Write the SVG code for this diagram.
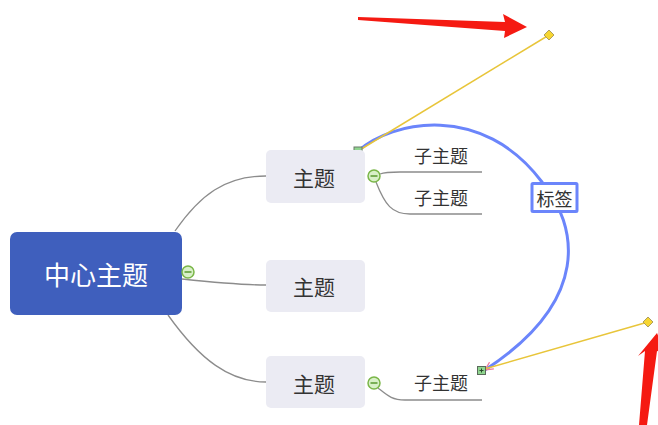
<svg xmlns="http://www.w3.org/2000/svg" width="658" height="425" viewBox="0 0 658 425">
<style>
.t{font-family:"Noto Sans CJK SC","Liberation Sans",sans-serif;text-anchor:middle;dominant-baseline:central}
.topic{fill:#ebebf3}
.tt{font-size:21px;fill:#333}
.st{font-size:18px;fill:#333}
.conn{fill:none;stroke:#8c8c8c;stroke-width:1.3}
.col{fill:#d8f0c8;stroke:#7ab648;stroke-width:1.5}
.minus{stroke:#5a9a30;stroke-width:1.5}
.yel{stroke:#e8c53a;stroke-width:1.5;fill:none}
.dia{fill:#f7d631;stroke:#9a8a50;stroke-width:0.8}
.red{fill:#f51a12}
</style>
<defs>
<marker id="pa" markerWidth="10" markerHeight="10" refX="8" refY="5" orient="auto" markerUnits="userSpaceOnUse">
<path d="M0,1 L8,5 L0,9" fill="none" stroke="#f07a9a" stroke-width="1.3"/>
</marker>
</defs>
<g id="connectors">
<path class="conn" d="M175,231 C200,195 225,176 266,176"/>
<path class="conn" d="M182,279 C220,283 240,285 266,285"/>
<path class="conn" d="M168,315 C200,360 230,382 266,382"/>
<path class="conn" d="M380,174 C385,172 390,172 400,172 L482,172"/>
<path class="conn" d="M376,182 C385,205 392,214 410,214 L482,214"/>
<path class="conn" d="M378,388 C388,396 392,400 405,400 L482,400"/>
</g>
<g id="relationship">
<path d="M358,151 C392,121 482,102 542,182 C578,226 592,300 485,370" fill="none" stroke="#6b85fb" stroke-width="3" marker-end="url(#pa)"/>
<line class="yel" x1="358" y1="151" x2="549" y2="35"/>
<line class="yel" x1="481" y1="370" x2="648" y2="322"/>
<rect x="354" y="147" width="8" height="8" fill="#8fd58f" stroke="#6a7a6a" stroke-width="1"/>
<rect x="477.5" y="366.5" width="8" height="8" fill="#8fd58f" stroke="#5a6a5a" stroke-width="1"/>
<path d="M479.5,370.5 h4 M481.5,368.5 v4" stroke="#2a4a2a" stroke-width="1"/>
<path class="dia" d="M549,30 L554,35 L549,40 L544,35 Z"/>
<path class="dia" d="M648,317 L653,322 L648,327 L643,322 Z"/>
</g>
<g id="label">
<rect x="532" y="183.5" width="45" height="28" fill="#fff" stroke="#6b85fb" stroke-width="3" rx="1"/>
<text class="t st" x="554.5" y="198">标签</text>
</g>
<g id="central">
<rect x="10" y="232" width="172" height="83" rx="7" fill="#3f5fbd"/>
<text class="t" x="96" y="273" font-size="26" fill="#fff">中心主题</text>
<circle class="col" cx="188" cy="272" r="6"/>
<line class="minus" x1="184.5" y1="272" x2="191.5" y2="272"/>
</g>
<g id="topic1">
<rect class="topic" x="266" y="150" width="99" height="53" rx="5"/>
<text class="t tt" x="314" y="177">主题</text>
<circle class="col" cx="374" cy="176" r="6"/>
<line class="minus" x1="370.5" y1="176" x2="377.5" y2="176"/>
</g>
<g id="topic2">
<rect class="topic" x="266" y="260" width="99" height="52" rx="5"/>
<text class="t tt" x="314" y="286">主题</text>
</g>
<g id="topic3">
<rect class="topic" x="266" y="356" width="99" height="52" rx="5"/>
<text class="t tt" x="314" y="383">主题</text>
<circle class="col" cx="374" cy="383" r="6"/>
<line class="minus" x1="370.5" y1="383" x2="377.5" y2="383"/>
</g>
<g id="sub1"><text class="t st" x="441" y="155">子主题</text></g>
<g id="sub2"><text class="t st" x="441" y="197">子主题</text></g>
<g id="sub3"><text class="t st" x="441" y="382">子主题</text></g>
<g id="arrows">
<polygon class="red" points="358,17 505,22 503,14 527,27 504,38 505,31 358,20"/>
<polygon class="red" points="639,425 645,351 638,356 657,333 665,352 657,351 647,425"/>
</g>
</svg>
